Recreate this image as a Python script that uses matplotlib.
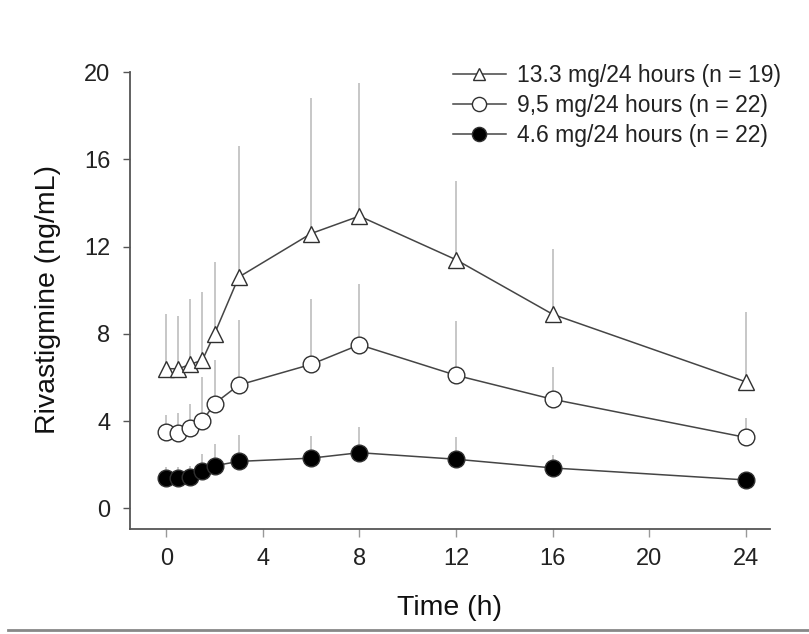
import numpy as np
import matplotlib.pyplot as plt
from matplotlib.lines import Line2D

plt.rcParams['font.family'] = ['Liberation Sans', 'DejaVu Sans']

# Sampling times (h)
time_h = [0, 0.5, 1, 1.5, 2, 3, 6, 8, 12, 16, 24]

# Mean plasma concentrations (ng/mL)
mean_13_3 = [6.4, 6.4, 6.6, 6.8, 8.0, 10.6, 12.6, 13.4, 11.4, 8.9, 5.8]
mean_9_5 = [3.5, 3.45, 3.7, 4.0, 4.8, 5.65, 6.6, 7.5, 6.1, 5.0, 3.25]
mean_4_6 = [1.4, 1.4, 1.45, 1.7, 1.95, 2.15, 2.3, 2.55, 2.25, 1.85, 1.3]

# Upper SD (ng/mL)
sd_13_3 = [2.5, 2.4, 3.0, 3.1, 3.3, 6.0, 6.2, 6.1, 3.6, 3.0, 3.2]
sd_9_5 = [0.8, 0.9, 1.1, 2.0, 2.0, 3.0, 3.0, 2.8, 2.5, 1.5, 0.9]
sd_4_6 = [0.5, 0.5, 0.5, 0.8, 1.0, 1.2, 1.0, 1.2, 1.0, 0.6, 0.3]

labels = ['13.3 mg/24 hours (n = 19)', '9,5 mg/24 hours (n = 22)', '4.6 mg/24 hours (n = 22)']

fig = plt.figure(figsize=(8.09, 6.34), dpi=100)
ax = fig.add_axes([0.1607, 0.1656, 0.791, 0.724])

series = [
    (mean_13_3, sd_13_3, '^', 'white', 11),
    (mean_9_5, sd_9_5, 'o', 'white', 12),
    (mean_4_6, sd_4_6, 'o', 'black', 12),
]

handles = []
for (m, sd, mk, fc, ms), lab in zip(series, labels):
    m = np.array(m)
    sd = np.array(sd)
    ax.vlines(time_h, m, m + sd, colors='#b8b8b8', lw=1.1, zorder=1)
    ax.plot(time_h, m, color='#454545', lw=1.1, marker=mk, ms=ms,
            mfc=fc, mec='#303030', mew=1.0, zorder=3)
    handles.append(Line2D([], [], color='#454545', lw=1.1, marker=mk,
                          ms=ms * 0.85, mfc=fc, mec='#303030', mew=1.0))

ax.set_xlim(-1.5, 25)
ax.set_ylim(-0.95, 20.1)
ax.set_xticks(np.arange(0, 25, 4))
ax.set_yticks(np.arange(0, 21, 4))

for s in ['top', 'right']:
    ax.spines[s].set_visible(False)
for s in ['left', 'bottom']:
    ax.spines[s].set_color('#555555')
    ax.spines[s].set_linewidth(1.3)
ax.spines['left'].set_bounds(-0.95, 20)

ax.tick_params(axis='y', direction='out', length=5, width=1, color='#555555',
               labelsize=17, pad=9, labelcolor='#222222')
ax.tick_params(axis='x', direction='out', length=6, width=1, color='#999999',
               labelsize=17, pad=8, labelcolor='#222222')

ax.set_xlabel('Time (h)', fontsize=20.5, labelpad=18, color='#111111')
ax.set_ylabel('Rivastigmine (ng/mL)', fontsize=20.5, labelpad=17, color='#111111')

ax.legend(handles, labels, loc='upper right', bbox_to_anchor=(1.05, 1.058),
          frameon=False, fontsize=16.5, handlelength=2.3, handletextpad=0.5,
          labelspacing=0.3, labelcolor='#222222')

# thin rule along the bottom of the figure
fig.add_artist(Line2D([0.01, 1.0], [0.007, 0.007], color='#888888', lw=2,
                      transform=fig.transFigure))

fig.savefig('out.png', dpi=100, facecolor='white')
